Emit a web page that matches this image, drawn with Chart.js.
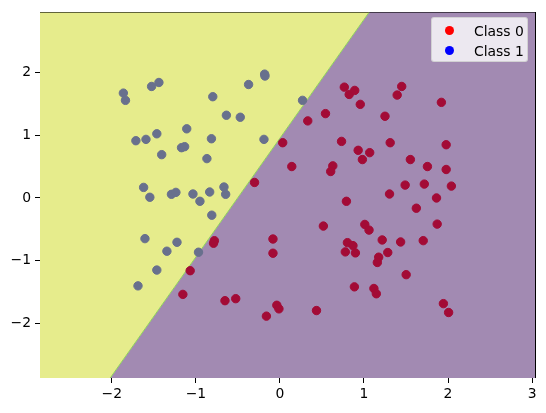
<!DOCTYPE html>
<html>
<head>
<meta charset="utf-8">
<script src="https://cdn.jsdelivr.net/npm/chart.js@4.4.0/dist/chart.umd.min.js"></script>
<style>
  body { margin: 0; background: #fff; }
  #wrap { position: relative; width: 546px; height: 413px; }
  #legend {
    position: absolute; left: 431px; top: 17px; width: 97px; height: 45px;
    background: rgba(255,255,255,0.8); border: 1px solid rgba(204,204,204,0.8);
    border-radius: 3px; box-sizing: border-box;
    font-family: 'DejaVu Sans', sans-serif; font-size: 13.9px; color: #000;
  }
  .row { position: absolute; left: 0; height: 20px; line-height: 20px; }
  .dot { position: absolute; left: 13px; top: 5px; width: 9px; height: 9px; border-radius: 50%; }
  .lbl { position: absolute; left: 42px; top: 0; white-space: nowrap; }
</style>
</head>
<body>
<div id="wrap">
  <canvas id="chart" width="546" height="413"></canvas>
  <div id="legend">
    <div class="row" style="top:3px"><span class="dot" style="background:#ff0000"></span><span class="lbl">Class 0</span></div>
    <div class="row" style="top:23px"><span class="dot" style="background:#0000ff"></span><span class="lbl">Class 1</span></div>
  </div>
</div>
<script>
// axis limits and ticks
const xLimits = [-2.855, 3.035];
const yLimits = [-2.864, 2.953];
const xTicks = [-2, -1, 0, 1, 2, 3];
const yTicks = [-2, -1, 0, 1, 2];

// decision boundary (where it meets the bottom and top of the plot)
const boundaryX = [-2.02, 1.06];
const boundaryY = [-2.864, 2.953];

// class 0 (red)
const class0X = [0.331, 0.542, 0.766, 0.824, 0.890, 0.956, 1.250, 1.395, 1.449, 1.921,
  0.033, 0.141, -0.302, -0.78, -0.79, 0.629, 0.604, 0.733, 0.931, 0.981,
  1.068, 1.312, 1.978, 1.552, 1.755, 1.978, 1.490, 1.718, 2.040, 1.304,
  0.791, 1.863, 1.623, 0.517, 1.010, 1.060, 1.871, -0.083, 0.803, 0.869,
  1.217, 1.436, 1.705, -0.083, 0.778, 0.898, 1.283, 1.175, 1.159, -1.068,
  -1.155, -0.654, -0.526, -0.161, -0.037, -0.012, 0.435, 0.886, 1.118, 1.147,
  1.502, 1.945, 2.007];
const class0Y = [1.226, 1.342, 1.763, 1.647, 1.711, 1.489, 1.300, 1.637, 1.774, 1.521,
  0.879, 0.500, 0.247, -0.68, -0.72, 0.511, 0.421, 0.900, 0.758, 0.611,
  0.721, 0.879, 0.847, 0.611, 0.500, 0.453, 0.205, 0.221, 0.189, 0.063,
  -0.053, 0.000, -0.163, -0.447, -0.421, -0.511, -0.416, -0.653, -0.711, -0.758,
  -0.668, -0.700, -0.679, -0.879, -0.858, -0.874, -0.868, -0.942, -1.026, -1.157,
  -1.534, -1.634, -1.602, -1.880, -1.707, -1.764, -1.791, -1.414, -1.440, -1.524,
  -1.220, -1.681, -1.822];

// class 1 (blue)
const class1X = [-1.863, -1.838, -1.527, -1.440, -0.799, -0.637, -0.472, -0.373, -0.182, -0.178,
  0.269, -1.109, -1.714, -1.594, -1.465, -0.815, -0.190, -1.171, -1.134, -1.407,
  -0.869, -1.622, -1.548, -1.291, -1.238, -1.035, -0.952, -0.836, -0.666, -0.646,
  -0.811, -1.606, -1.225, -1.345, -0.969, -1.465, -1.689];
const class1Y = [1.668, 1.553, 1.774, 1.837, 1.611, 1.316, 1.284, 1.805, 1.970, 1.940,
  1.553, 1.100, 0.911, 0.932, 1.021, 0.942, 0.932, 0.800, 0.816, 0.689,
  0.626, 0.168, 0.011, 0.058, 0.089, 0.063, -0.053, 0.095, 0.174, 0.058,
  -0.274, -0.647, -0.705, -0.847, -0.863, -1.147, -1.398];

const toPoints = (xs, ys) => xs.map((x, i) => ({ x: x, y: ys[i] }));

// boundary extended along bottom and top edges so fills cover each side
const regionLine = [
  { x: xLimits[0], y: boundaryY[0] },
  { x: boundaryX[0], y: boundaryY[0] },
  { x: boundaryX[1], y: boundaryY[1] },
  { x: xLimits[1], y: boundaryY[1] }
];

const minus = v => String(v).replace('-', '\u2212');

Chart.defaults.font.family = "'DejaVu Sans', sans-serif";
Chart.defaults.font.size = 13.9;
Chart.defaults.color = '#000';

const tickGrid = { display: true, drawOnChartArea: false, drawTicks: true, tickLength: 5, tickColor: '#000', lineWidth: 1 };
const edge = { display: true, color: '#000', width: 1 };

new Chart(document.getElementById('chart'), {
  type: 'scatter',
  data: {
    datasets: [
      {
        label: 'Class 0',
        data: toPoints(class0X, class0Y),
        backgroundColor: '#a30b36',
        borderColor: '#a30b36',
        borderWidth: 1,
        pointRadius: 4.2,
        order: 0
      },
      {
        label: 'Class 1',
        data: toPoints(class1X, class1Y),
        backgroundColor: '#68708d',
        borderColor: '#68708d',
        borderWidth: 1,
        pointRadius: 4.2,
        order: 0
      },
      {
        label: 'boundary',
        type: 'line',
        data: toPoints(boundaryX, boundaryY),
        borderColor: '#8fd45a',
        borderWidth: 1,
        pointRadius: 0,
        fill: false,
        order: 1
      },
      {
        label: 'region 1',
        type: 'line',
        data: regionLine,
        borderWidth: 0,
        pointRadius: 0,
        backgroundColor: '#e6ec8c',
        fill: 'end',
        order: 2
      },
      {
        label: 'region 0',
        type: 'line',
        data: regionLine,
        borderWidth: 0,
        pointRadius: 0,
        backgroundColor: '#a28ab2',
        fill: 'start',
        order: 2
      }
    ]
  },
  options: {
    responsive: false,
    animation: false,
    devicePixelRatio: 1,
    layout: { padding: 0 },
    plugins: { legend: { display: false }, tooltip: { enabled: false } },
    scales: {
      x: {
        type: 'linear', position: 'bottom',
        min: xLimits[0], max: xLimits[1],
        grid: tickGrid, border: edge,
        ticks: { padding: 3, maxRotation: 0, callback: v => minus(v) },
        afterBuildTicks: s => { s.ticks = xTicks.map(v => ({ value: v })); },
        afterFit: s => { s.height = 35; }
      },
      y: {
        type: 'linear', position: 'left',
        min: yLimits[0], max: yLimits[1],
        grid: tickGrid, border: edge,
        ticks: { padding: 4, callback: v => minus(v) },
        afterBuildTicks: s => { s.ticks = yTicks.map(v => ({ value: v })); },
        afterFit: s => { s.width = 40; }
      },
      xTop: {
        type: 'linear', position: 'top',
        min: xLimits[0], max: xLimits[1],
        grid: { display: false }, border: edge,
        ticks: { display: false },
        afterFit: s => { s.height = 10; }
      },
      yRight: {
        type: 'linear', position: 'right',
        min: yLimits[0], max: yLimits[1],
        grid: { display: false }, border: edge,
        ticks: { display: false },
        afterFit: s => { s.width = 11; }
      }
    }
  }
});
</script>
</body>
</html>
